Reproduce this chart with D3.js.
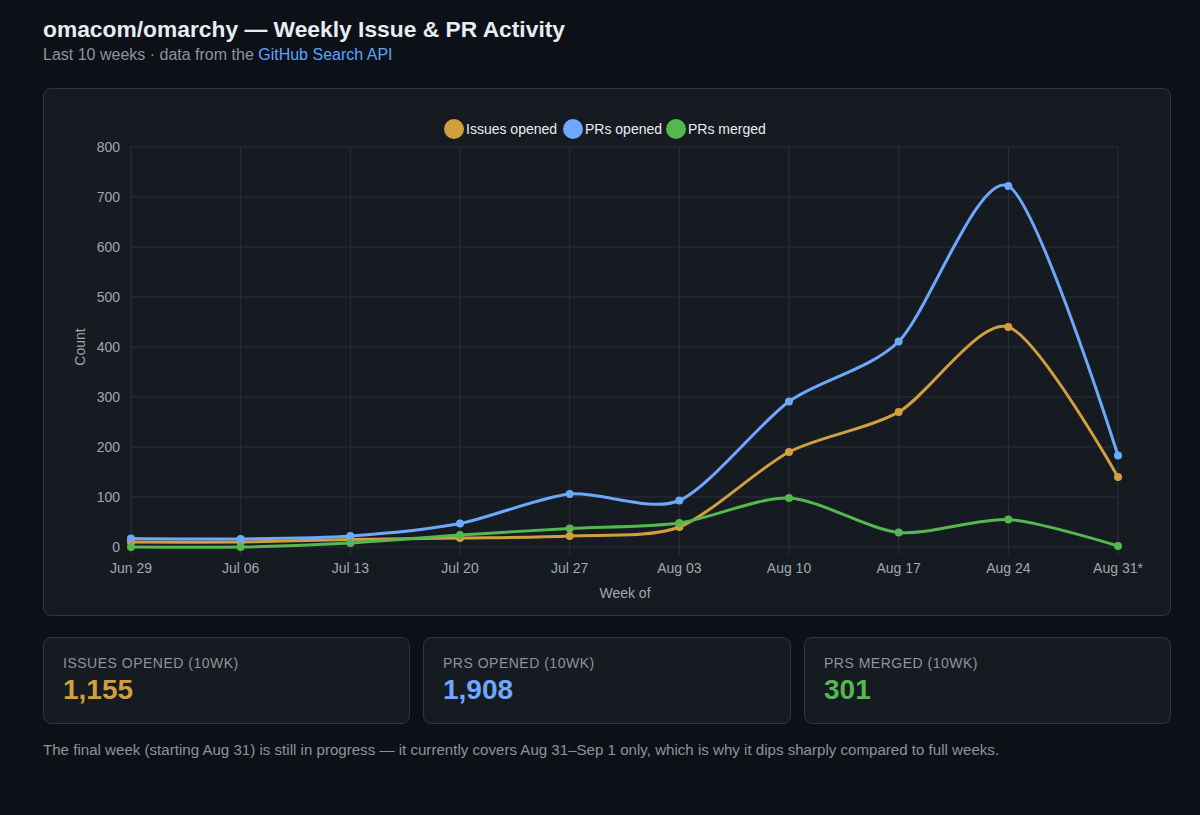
<!DOCTYPE html><html><head><meta charset="utf-8">
<script src="https://cdn.jsdelivr.net/npm/d3@7"></script>
<style>
body{margin:0;background:#0d1117;font-family:-apple-system,"Helvetica Neue","Liberation Sans",Arial,sans-serif;color:#e6edf3;width:1200px;height:815px;overflow:hidden}
h1{position:absolute;left:43px;top:16px;margin:0;font-size:22.8px;font-weight:700}
.sub{position:absolute;left:43px;top:46px;font-size:16px;color:#8b949e}
.sub a{color:#58a6ff;text-decoration:none}
.card{position:absolute;background:#161b22;border:1px solid #30363d;border-radius:8px}
.lab{font-size:14px;color:#8b949e;letter-spacing:0.5px;position:absolute;left:19px;top:17px}
.val{font-size:28px;font-weight:700;position:absolute;left:19px;top:36px}
.note{position:absolute;left:43px;top:741px;font-size:15.1px;color:#8b949e}
</style></head><body>
<h1>omacom/omarchy — Weekly Issue &amp; PR Activity</h1>
<div class="sub">Last 10 weeks · data from the <a href="#">GitHub Search API</a></div>
<div class="card" style="left:43px;top:88px;width:1126px;height:526px"></div>
<svg id="c" width="1200" height="815" style="position:absolute;left:0;top:0"></svg>
<div class="card" style="left:43px;top:637px;width:365px;height:85px"><div class="lab">ISSUES OPENED (10WK)</div><div class="val" style="color:#d29f3f">1,155</div></div>
<div class="card" style="left:423px;top:637px;width:366px;height:85px"><div class="lab">PRS OPENED (10WK)</div><div class="val" style="color:#6ea8fe">1,908</div></div>
<div class="card" style="left:804px;top:637px;width:365px;height:85px"><div class="lab">PRS MERGED (10WK)</div><div class="val" style="color:#56b650">301</div></div>
<div class="note">The final week (starting Aug 31) is still in progress — it currently covers Aug 31–Sep 1 only, which is why it dips sharply compared to full weeks.</div>
<script>
const weeks=["Jun 29","Jul 06","Jul 13","Jul 20","Jul 27","Aug 03","Aug 10","Aug 17","Aug 24","Aug 31*"];
const issuesOpened=[10,10,15,18,22,40,190,270,440,140];
const prsOpened=[17,16,22,47,106,93,291,411,722,183];
const prsMerged=[0,0,8,24,37,48,98,29,55,2];
const yTicks=[0,100,200,300,400,500,600,700,800];
const series=[{name:"Issues opened",v:issuesOpened,c:"#d29f3f"},{name:"PRs opened",v:prsOpened,c:"#6ea8fe"},{name:"PRs merged",v:prsMerged,c:"#56b650"}];
const svg=d3.select("#c");
const x=d3.scalePoint().domain(weeks).range([131,1118]);
const y=d3.scaleLinear().domain([0,800]).range([547,147]);
const g=svg.append("g");
g.selectAll(".gy").data(yTicks).join("line").attr("x1",131).attr("x2",1118).attr("y1",d=>y(d)).attr("y2",d=>y(d)).attr("stroke","#2a2f37");
g.selectAll(".gx").data(weeks).join("line").attr("x1",d=>x(d)).attr("x2",d=>x(d)).attr("y1",147).attr("y2",555).attr("stroke","#2a2f37");
g.selectAll(".ty").data(yTicks).join("text").attr("x",120).attr("y",d=>y(d)+5).attr("text-anchor","end").attr("fill","#a0a8b2").attr("font-size",14).text(d=>d);
g.selectAll(".tx").data(weeks).join("text").attr("x",d=>x(d)).attr("y",573).attr("text-anchor","middle").attr("fill","#a0a8b2").attr("font-size",14).text(d=>d);
g.append("text").attr("x",625).attr("y",598).attr("text-anchor","middle").attr("fill","#a0a8b2").attr("font-size",14).text("Week of");
g.append("text").attr("transform","translate(85,347) rotate(-90)").attr("text-anchor","middle").attr("fill","#a0a8b2").attr("font-size",14).text("Count");
const line=d3.line().x((d,i)=>x(weeks[i])).y(d=>y(d)).curve(d3.curveCardinal.tension(0.2));
series.forEach(s=>{
 g.append("path").attr("d",line(s.v)).attr("fill","none").attr("stroke",s.c).attr("stroke-width",3);
 g.selectAll(null).data(s.v).join("circle").attr("cx",(d,i)=>x(weeks[i])).attr("cy",d=>y(d)).attr("r",4).attr("fill",s.c);
});
const lx=[454,573,676];
series.forEach((s,i)=>{
 g.append("circle").attr("cx",lx[i]).attr("cy",129).attr("r",10).attr("fill",s.c);
 g.append("text").attr("x",lx[i]+12).attr("y",134).attr("fill","#e6edf3").attr("font-size",14).text(s.name);
});
</script></body></html>
